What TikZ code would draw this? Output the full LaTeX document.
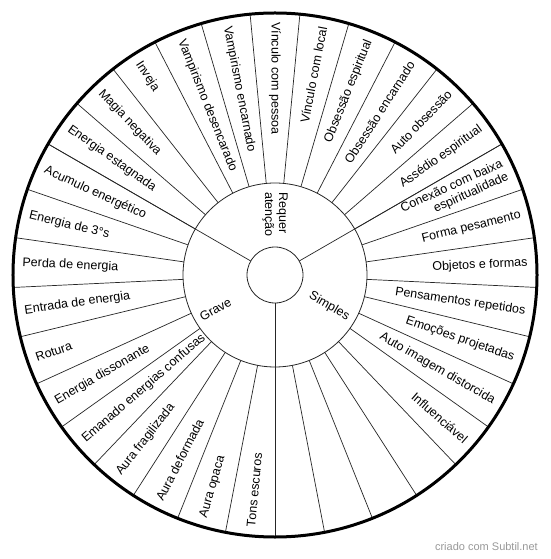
\documentclass[tikz,border=0pt]{standalone}
\usepackage{fontspec}
\setmainfont{Liberation Sans}
\begin{document}
\begin{tikzpicture}[x=1pt,y=1pt,
  spoke/.style={line width=0.7pt, draw=black!85},
  ring/.style={line width=0.8pt, draw=black!85},
  rimline/.style={line width=3pt, draw=black},
  lbl/.style={font=\fontsize{12.5}{14}\selectfont, inner sep=0pt},
  credit/.style={font=\fontsize{11}{13}\selectfont, text=black!40, inner sep=0pt}]
\useasboundingbox (-275,-284) rectangle (275,275);
\fill[white] (-275,-284) rectangle (275,275);
\coordinate (c) at (0,0);
% circles
\draw[ring] (c) circle (28);
\draw[ring] (c) circle (92);
% spokes of outer ring
\foreach \k in {0,...,32}{
  \pgfmathsetmacro\ang{30+\k*360/33}
  \draw[spoke] (\ang:92) -- (\ang:262);
}
% three main dividers
\foreach \ang in {30,150,270}{
  \draw[spoke] (\ang:28) -- (\ang:262);
}
\draw[rimline] (c) circle (262);
% right-side labels (read outward)
\foreach \t/\k in {Objetos e formas/0, Forma pesamento/1, {Conexão com baixa\\espiritualidade}/2, Assédio espiritual/3, Auto obsessão/4, Obsessão encarnado/5, Obsessão espiritual/6, Vínculo com local/7, Influenciável/29, Auto imagem distorcida/30, Emoções projetadas/31, Pensamentos repetidos/32}{
  \pgfmathsetmacro\ang{2.7273+\k*360/33}
  \node[lbl, anchor=east, align=right, rotate=\ang] (o\k) at (\ang:253) {\t};
}
% left-side labels (read inward)
\foreach \t/\k in {Vínculo com pessoa/8, Vampirismo encarnado/9, Vampirismo desencarado/10, Inveja/11, Magia negativa/12, Energia estagnada/13, Acumulo energético/14, Energia de 3°s/15, Perda de energia/16, Entrada de energia/17, Rotura/18, Energia dissonante/19, Emanado energias confusas/20, Aura fragilizada/21, Aura deformada/22, Aura opaca/23, Tons escuros/24}{
  \pgfmathsetmacro\ang{2.7273+\k*360/33}
  \pgfmathsetmacro\rot{\ang-180}
  \node[lbl, anchor=west, align=left, rotate=\rot] (o\k) at (\ang:253) {\t};
}
% inner labels
\node[lbl, anchor=west, align=left, rotate=-90] (req) at (90:83) {Requer\\atenção};
\node[lbl, anchor=east, rotate=-30] (sim) at (-30:85) {Simples};
\node[lbl, anchor=west, rotate=30] (grv) at (210:86) {Grave};
% credit
\node[credit, anchor=east] (cr) at (263,-272) {criado com Subtil.net};
\end{tikzpicture}
\end{document}
